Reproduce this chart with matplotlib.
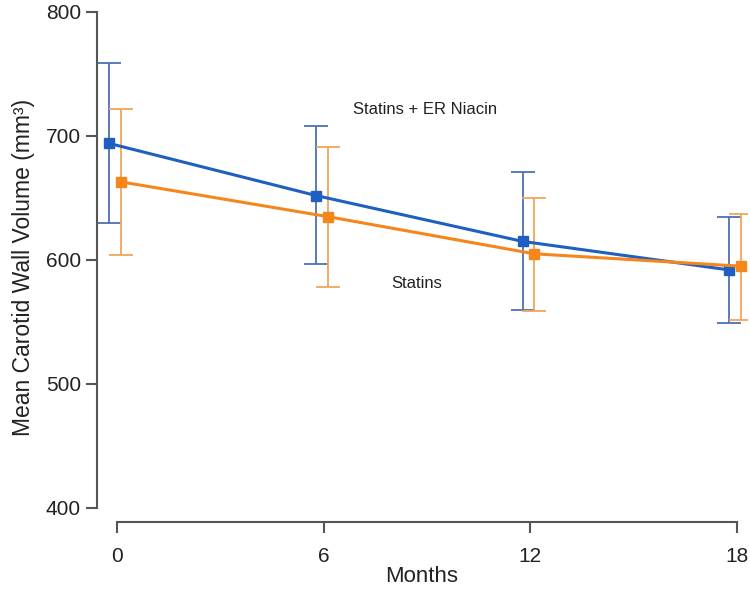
import numpy as np
import matplotlib.pyplot as plt

plt.rcParams['font.family'] = ['Liberation Sans', 'DejaVu Sans']

# data
months = [0, 6, 12, 18]
niacin_mean = [694, 652, 615, 592]
niacin_lo = [630, 597, 560, 549]
niacin_hi = [759, 708, 671, 635]
statin_mean = [663, 635, 605, 595]
statin_lo = [604, 578, 559, 552]
statin_hi = [722, 691, 650, 637]


def run():
    fig = plt.figure(figsize=(7.5, 5.91), dpi=100)
    ax = fig.add_axes([97 / 750, 1 - 522 / 591, 650 / 750, 510 / 591])

    x = np.array(months, dtype=float)
    groups = [
        (niacin_mean, niacin_lo, niacin_hi, -0.22, '#1f5fc0', '#4c70b4'),
        (statin_mean, statin_lo, statin_hi, 0.12, '#f5861c', '#f2a55a'),
    ]
    for mean, lo, hi, dx, col, ecol in groups:
        mean = np.array(mean)
        yerr = [mean - np.array(lo), np.array(hi) - mean]
        ax.errorbar(x + dx, mean, yerr=yerr, fmt='none', ecolor=ecol,
                    elinewidth=1.3, capsize=8.5, capthick=1.3, zorder=2)
        ax.plot(x + dx, mean, color=col, lw=2.2, marker='s', ms=7,
                zorder=3)

    ax.text(8.95, 721, 'Statins + ER Niacin', ha='center', va='center',
            fontsize=12, color='#222222')
    ax.text(8.7, 581, 'Statins', ha='center', va='center',
            fontsize=12, color='#222222')

    ax.set_xlim(-0.58, 18.3)
    ax.set_ylim(388.7, 800)
    for s in ['top', 'right']:
        ax.spines[s].set_visible(False)
    ax.spines['left'].set_bounds(400, 800)
    ax.spines['bottom'].set_bounds(0, 18)
    for s in ['left', 'bottom']:
        ax.spines[s].set_color('#555555')
        ax.spines[s].set_linewidth(1.5)

    ax.set_xticks(months)
    ax.set_yticks([400, 500, 600, 700, 800])
    ax.tick_params(colors='#555555', labelcolor='#222222', labelsize=15,
                   length=8, width=1.5)
    ax.tick_params(axis='x', pad=10)

    ax.set_xlabel('Months', fontsize=16, color='#222222', labelpad=0)
    ax.set_ylabel('Mean Carotid Wall Volume (mm³)', fontsize=16.5,
                  color='#222222', labelpad=8)

    fig.savefig('out.png', dpi=100)


run()
